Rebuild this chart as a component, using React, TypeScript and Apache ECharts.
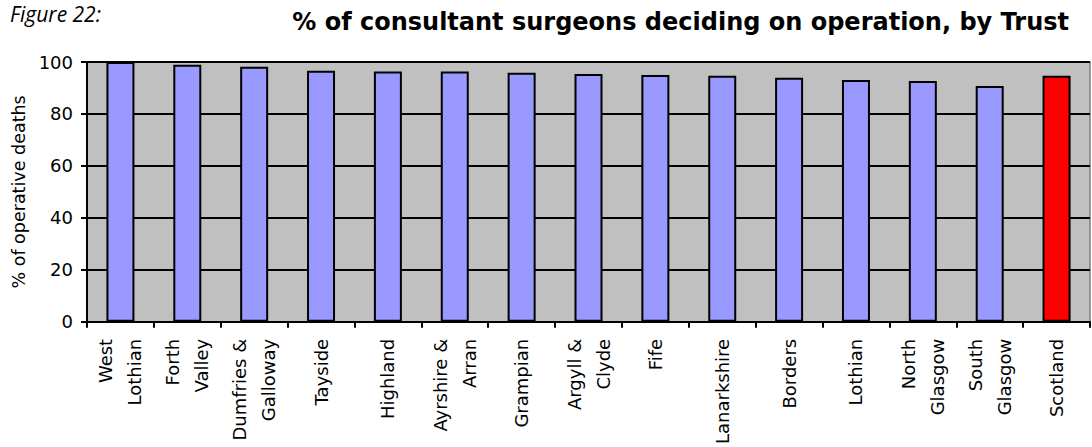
import React, { useEffect, useRef } from "react";
import * as echarts from "echarts";

// Trusts, in descending order, with the national figure last
const trusts: string[] = [
  "West\nLothian",
  "Forth\nValley",
  "Dumfries &\nGalloway",
  "Tayside",
  "Highland",
  "Ayrshire &\nArran",
  "Grampian",
  "Argyll &\nClyde",
  "Fife",
  "Lanarkshire",
  "Borders",
  "Lothian",
  "North\nGlasgow",
  "South\nGlasgow",
  "Scotland",
];

// % of consultant surgeons deciding on operation
const percentages: number[] = [
  100, 98.9, 98.2, 96.6, 96.3, 96.3, 95.9, 95.4, 95.0, 94.7, 93.9, 93.1, 92.7,
  90.8, 94.7,
];

const yTicks: number[] = [0, 20, 40, 60, 80, 100];

const TRUST_COLOUR = "#9999ff";
const NATIONAL_COLOUR = "#ff0000";
const FONT = "'DejaVu Sans', Verdana, Tahoma, sans-serif";

export default function App() {
  const ref = useRef<HTMLDivElement>(null);

  useEffect(() => {
    if (!ref.current) return;
    const chart = echarts.init(ref.current, undefined, { renderer: "svg" });

    chart.setOption({
      animation: false,
      backgroundColor: "#ffffff",
      graphic: [
        {
          type: "text",
          left: 10,
          top: 3,
          style: {
            text: "Figure 22:",
            font: "italic 21px 'Open Sans', 'Noto Sans', sans-serif",
            fill: "#000000",
          },
        },
      ],
      title: {
        text: "% of consultant surgeons deciding on operation, by Trust",
        right: 18,
        top: 5,
        textStyle: {
          fontFamily: FONT,
          fontWeight: "bold",
          fontSize: 24,
          color: "#000000",
        },
      },
      grid: {
        left: 87,
        right: 2,
        top: 62,
        bottom: 123.5,
        show: true,
        backgroundColor: "#c0c0c0",
        borderColor: "#808080",
        borderWidth: 1.5,
      },
      xAxis: {
        type: "category",
        data: trusts,
        axisLine: { lineStyle: { color: "#000000", width: 2 } },
        axisTick: { show: true, length: 6, lineStyle: { color: "#000000", width: 2 } },
        axisLabel: {
          rotate: 90,
          interval: 0,
          margin: 17,
          fontFamily: FONT,
          fontSize: 18,
          lineHeight: 29,
          color: "#000000",
        },
      },
      yAxis: {
        type: "value",
        min: yTicks[0],
        max: yTicks[yTicks.length - 1],
        interval: 20,
        name: "% of operative deaths",
        nameLocation: "middle",
        nameRotate: 90,
        nameGap: 56,
        nameTextStyle: { fontFamily: FONT, fontSize: 17.5, color: "#000000" },
        axisLine: { show: true, lineStyle: { color: "#000000", width: 2 } },
        axisTick: { show: true, length: 6, lineStyle: { color: "#000000", width: 2 } },
        axisLabel: {
          margin: 14,
          fontFamily: FONT,
          fontSize: 18,
          color: "#000000",
        },
        splitLine: { show: true, lineStyle: { color: "#000000", width: 2 } },
      },
      series: [
        {
          type: "bar",
          barWidth: 28,
          data: percentages.map((v, i) => ({
            value: v,
            itemStyle: {
              color: i === percentages.length - 1 ? NATIONAL_COLOUR : TRUST_COLOUR,
              borderColor: "#000000",
              borderWidth: 2,
            },
          })),
        },
      ],
    });

    return () => chart.dispose();
  }, []);

  return (
    <div
      ref={ref}
      style={{ width: 1092, height: 447, position: "absolute", left: 0, top: 0 }}
    />
  );
}
